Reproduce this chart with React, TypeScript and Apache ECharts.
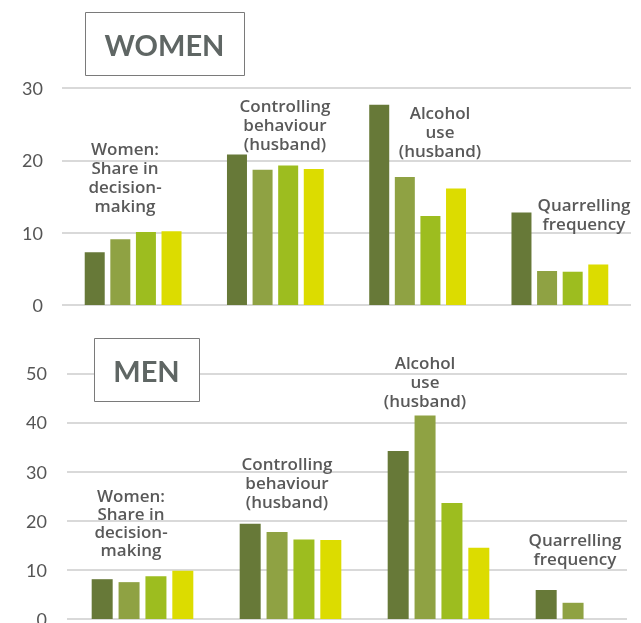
import React, { useEffect, useRef } from "react";
import * as echarts from "echarts";

const categories = [
  "Women:\nShare in\ndecision-\nmaking",
  "Controlling\nbehaviour\n(husband)",
  "Alcohol\nuse\n(husband)",
  "Quarrelling\nfrequency",
];
const seriesNames = ["Series 1", "Series 2", "Series 3", "Series 4"];
const seriesColors = ["#677938", "#8fa243", "#9dbd1f", "#dcdc00"];

const womenS1 = [7.3, 20.8, 27.7, 12.8];
const womenS2 = [9.1, 18.7, 17.7, 4.7];
const womenS3 = [10.1, 19.3, 12.3, 4.6];
const womenS4 = [10.2, 18.8, 16.1, 5.6];

const menS1 = [8.1, 19.4, 34.2, 5.9];
const menS2 = [7.5, 17.7, 41.4, 3.3];
const menS3 = [8.7, 16.2, 23.6, null];
const menS4 = [9.8, 16.1, 14.5, null];

const womenTicks = { min: 0, max: 30, interval: 10 };
const menTicks = { min: 0, max: 50, interval: 10 };

const womenTitle = "WOMEN";
const menTitle = "MEN";

const LABEL_COLOR = "#595959";
const GRID_COLOR = "#d9d9d9";

export default function App() {
  const ref = useRef<HTMLDivElement>(null);
  useEffect(() => {
    if (!ref.current) return;
    const chart = echarts.init(ref.current, undefined, { renderer: "svg" });

    const tickLabel = {
      color: "#555555",
      fontSize: 18,
      fontFamily: "Lato",
      margin: 19,
    };
    const splitLine = { show: true, lineStyle: { color: GRID_COLOR, width: 2 } };

    const womenData = [womenS1, womenS2, womenS3, womenS4];
    const menData = [menS1, menS2, menS3, menS4];

    const series: any[] = [];
    womenData.forEach((d, i) => {
      series.push({
        type: "bar",
        name: seriesNames[i],
        xAxisIndex: 0,
        yAxisIndex: 0,
        data: d,
        barWidth: 20,
        barGap: "28%",
        itemStyle: { color: seriesColors[i] },
      });
    });
    menData.forEach((d, i) => {
      series.push({
        type: "bar",
        name: seriesNames[i],
        xAxisIndex: 2,
        yAxisIndex: 2,
        data: d.map((v) => (v === null ? "-" : v)),
        barWidth: 21,
        barGap: "28%",
        itemStyle: { color: seriesColors[i] },
      });
    });

    const catText = (text: string, x: number, y: number, lh: number) => ({
      type: "text",
      z: 100,
      x,
      y,
      style: {
        text,
        align: "center",
        verticalAlign: "middle",
        fill: LABEL_COLOR,
        fontFamily: "Open Sans",
        fontWeight: 600,
        fontSize: 17,
        lineHeight: lh,
      },
    });

    const titleBox = (text: string, x: number, y: number, w: number, h: number) => ({
      type: "group",
      z: 100,
      children: [
        {
          type: "rect",
          z: 100,
          shape: { x: x + 0.5, y: y + 0.5, width: w, height: h },
          style: { fill: "#ffffff", stroke: "#7a7a7a", lineWidth: 1 },
        },
        {
          type: "text",
          z: 101,
          x: x + w / 2,
          y: y + h / 2 + 1,
          style: {
            text,
            align: "center",
            verticalAlign: "middle",
            fill: "#5f6664",
            fontFamily: "Lato",
            fontWeight: "bold",
            fontSize: 29,
          },
        },
      ],
    });

    chart.setOption({
      animation: false,
      grid: [
        { left: 62, width: 569, top: 88, height: 217, outerBoundsMode: "none" },
        { left: 67, width: 560, top: 373.3, height: 245.7, outerBoundsMode: "none" },
        { left: 68.5, width: 592, top: 373.3, height: 245.7, outerBoundsMode: "none" },
      ],
      xAxis: [
        {
          gridIndex: 0,
          type: "category",
          data: categories,
          axisLine: { show: false },
          axisTick: { show: false },
          axisLabel: { show: false },
        },
        { gridIndex: 1, type: "category", data: categories, show: false },
        { gridIndex: 2, type: "category", data: categories, show: false },
      ],
      yAxis: [
        {
          gridIndex: 0,
          type: "value",
          ...womenTicks,
          axisLine: { show: false },
          axisTick: { show: false },
          axisLabel: tickLabel,
          splitLine,
        },
        {
          gridIndex: 1,
          type: "value",
          ...menTicks,
          axisLine: { show: false },
          axisTick: { show: false },
          axisLabel: { ...tickLabel, margin: 20 },
          splitLine,
        },
        { gridIndex: 2, type: "value", ...menTicks, show: false },
      ],
      series,
      graphic: [
        titleBox(womenTitle, 85, 12, 159, 63),
        titleBox(menTitle, 94, 338, 105, 63),
        catText(categories[0], 125, 177, 19),
        catText(categories[1], 285, 124, 19),
        catText(categories[2], 440, 131.5, 19),
        catText(categories[3], 584, 213.5, 19),
        catText(categories[0], 131, 522, 18),
        catText(categories[1], 287, 482.5, 19),
        catText(categories[2], 425, 381, 19),
        catText(categories[3], 575, 549, 19),
      ],
    });
    return () => chart.dispose();
  }, []);
  return (
    <div
      ref={ref}
      style={{ position: "fixed", left: 0, top: 0, width: 641, height: 623 }}
    />
  );
}
